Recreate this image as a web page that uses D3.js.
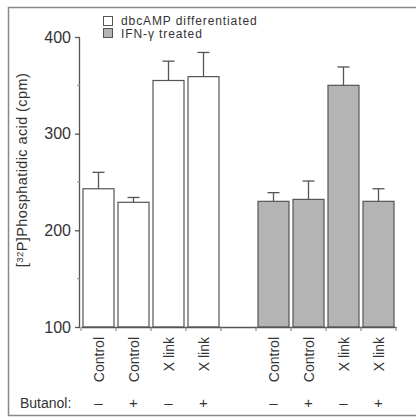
<!DOCTYPE html>
<html>
<head>
<meta charset="utf-8">
<script src="https://cdn.jsdelivr.net/npm/d3@7"></script>
<style>
  body { margin: 0; background: #fff; }
  text { font-family: "Liberation Sans", Arial, sans-serif; fill: #333; }
</style>
</head>
<body>
<div id="chart"></div>
<script>
// Données
const labels = ["Control", "Control", "X link", "X link", "", "Control", "Control", "X link", "X link"];
const butanol = ["–", "+", "–", "+", "", "–", "+", "–", "+"];
const groups = ["dbc", "dbc", "dbc", "dbc", null, "ifn", "ifn", "ifn", "ifn"];
const values = [243, 229, 355, 359, null, 230, 232, 350, 230];
const errors = [17, 5, 20, 25, null, 9, 19, 19, 13];
const legendLabels = ["dbcAMP differentiated", "IFN-γ treated"];
const yTicks = [100, 200, 300, 400];
const yMinor = [150, 250, 350];

const width = 416, height = 417;
const fills = { dbc: "#ffffff", ifn: "#b4b4b4" };

const svg = d3.select("#chart").append("svg")
    .attr("width", width).attr("height", height);

// cadre
svg.append("path")
    .attr("d", "M430,7.5 H8.5 V415.5 H430")
    .attr("fill", "none").attr("stroke", "#888").attr("stroke-width", 1.5);

const x = d3.scaleBand().domain(d3.range(labels.length)).range([81, 396]).paddingInner(0).paddingOuter(0);
const y = d3.scaleLinear().domain([100, 400]).range([327, 37]);

// axe Y
const yAxis = svg.append("g").attr("transform", "translate(80,0)")
    .call(d3.axisLeft(y).tickValues(yTicks).tickSize(5).tickPadding(4));
yAxis.select(".domain").attr("stroke", "#555").attr("stroke-width", 1.3).attr("d", "M-0.5,327.5V37");
yAxis.selectAll(".tick line").attr("stroke", "#555").attr("stroke-width", 1.3);
yAxis.selectAll(".tick text").style("font-size", "16px").attr("fill", "#333");
svg.append("g").selectAll("line").data(yMinor).join("line")
    .attr("x1", 77).attr("x2", 80).attr("y1", d => y(d)).attr("y2", d => y(d))
    .attr("stroke", "#888").attr("stroke-width", 1);

// barres
const idx = d3.range(labels.length).filter(i => values[i] != null);
const bw = x.bandwidth() - 4;
svg.append("g").selectAll("rect").data(idx).join("rect")
    .attr("x", i => x(i) + 2).attr("width", bw)
    .attr("y", i => y(values[i])).attr("height", i => y(100) - y(values[i]))
    .attr("fill", i => fills[groups[i]])
    .attr("stroke", "#555").attr("stroke-width", 1.2);

// barres d'erreur
const eb = svg.append("g").attr("stroke", "#555").attr("stroke-width", 1.3);
idx.forEach(i => {
    const cx = x(i) + x.bandwidth() / 2;
    eb.append("line").attr("x1", cx).attr("x2", cx)
        .attr("y1", y(values[i])).attr("y2", y(values[i] + errors[i]));
    eb.append("line").attr("x1", cx - 6).attr("x2", cx + 6)
        .attr("y1", y(values[i] + errors[i])).attr("y2", y(values[i] + errors[i]));
});

// axe X
const xAxis = svg.append("g").attr("transform", "translate(0,327)")
    .call(d3.axisBottom(x).tickValues([]).tickSizeOuter(0));
xAxis.select(".domain").attr("stroke", "#555").attr("stroke-width", 1.3);
svg.append("g").selectAll("line").data(d3.range(labels.length + 1)).join("line")
    .attr("x1", i => 81 + i * x.step()).attr("x2", i => 81 + i * x.step())
    .attr("y1", 327).attr("y2", 331)
    .attr("stroke", "#777").attr("stroke-width", 1);

svg.append("g").selectAll("text").data(idx).join("text")
    .attr("transform", i => `translate(${x(i) + x.bandwidth() / 2 + 5},337) rotate(-90)`)
    .attr("text-anchor", "end")
    .style("font-size", "14px")
    .text(i => labels[i]);

// ligne Butanol
svg.append("text").attr("x", 20).attr("y", 408).style("font-size", "14px").text("Butanol:");
svg.append("g").selectAll("text").data(idx).join("text")
    .attr("x", i => x(i) + x.bandwidth() / 2).attr("y", 408)
    .attr("text-anchor", "middle")
    .style("font-size", "15px")
    .text(i => butanol[i]);

// titre Y
const yt = svg.append("text")
    .attr("transform", "translate(27,170) rotate(-90)")
    .attr("text-anchor", "middle")
    .style("font-size", "14.5px")
    .style("letter-spacing", "0.4px");
yt.append("tspan").text("[");
yt.append("tspan").attr("dy", -4).style("font-size", "9.5px").text("32");
yt.append("tspan").attr("dy", 4).text("P]Phosphatidic acid (cpm)");

// légende
const lg = svg.append("g");
legendLabels.forEach((t, k) => {
    lg.append("rect").attr("x", 103.5).attr("y", 16.5 + k * 12).attr("width", 9).attr("height", 9)
        .attr("fill", k === 0 ? fills.dbc : fills.ifn).attr("stroke", "#555").attr("stroke-width", 1);
    lg.append("text").attr("x", 121).attr("y", 25 + k * 12.5)
        .style("font-size", "12px").style("letter-spacing", "0.9px").text(t);
});
</script>
</body>
</html>
